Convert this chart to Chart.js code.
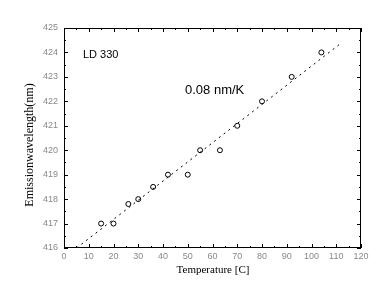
<!DOCTYPE html>
<html>
<head>
<meta charset="utf-8">
<script src="https://cdn.jsdelivr.net/npm/chart.js@4/dist/chart.umd.min.js"></script>
<style>
    body { margin: 0; background: #fff; }
    #chart { display: block; }
</style>
</head>
<body>
<canvas id="chart" width="391" height="305"></canvas>
<script>
// ─── DATA ─────────────────────────────────────────────────────
const temps       = [15, 20, 26, 30, 36, 42, 50, 55, 63, 70, 80, 92, 104];
const wavelengths = [417, 417, 417.8, 418, 418.5, 419, 419, 420, 420, 421, 422, 423, 424];

// linear fit (dashed), end points
const fitTemps = [5.1, 112.2];
const fitWaves = [416, 424.4];

const xTicks = [0, 10, 20, 30, 40, 50, 60, 70, 80, 90, 100, 110, 120];
const yTicks = [416, 417, 418, 419, 420, 421, 422, 423, 424, 425];

const yTitle = 'Emissionwavelength(nm)';
const xTitle = 'Temperature [C]';
const sampleLabel = 'LD 330';
const slopeLabel  = '0.08 nm/K';

// ─── FRAME + INWARD TICKS + TEXT ──────────────────────────────
const framePlugin = {
    id: 'frame',
    afterDraw(chart) {
        const { ctx, chartArea: a, scales: { x, y } } = chart;
        ctx.save();
        ctx.strokeStyle = '#000';
        ctx.lineWidth = 1;
        ctx.strokeRect(a.left + 0.5, a.top + 0.5, a.right - a.left - 1, a.bottom - a.top - 1);

        ctx.beginPath();
        // x ticks, major + minor, bottom and top
        for (let v = xTicks[0]; v <= xTicks[xTicks.length - 1]; v += 5) {
            const px = Math.round(x.getPixelForValue(v)) + 0.5;
            const len = v % 10 === 0 ? 4 : 2;
            ctx.moveTo(px, a.bottom); ctx.lineTo(px, a.bottom - len);
            ctx.moveTo(px, a.top);    ctx.lineTo(px, a.top + len);
        }
        // y ticks, major + minor, left and right
        for (let v = yTicks[0]; v <= yTicks[yTicks.length - 1]; v += 0.5) {
            const py = Math.round(y.getPixelForValue(v)) + 0.5;
            const len = v % 1 === 0 ? 4 : 2;
            ctx.moveTo(a.left, py);  ctx.lineTo(a.left + len, py);
            ctx.moveTo(a.right, py); ctx.lineTo(a.right - len, py);
        }
        ctx.stroke();

        ctx.fillStyle = '#000';
        ctx.textBaseline = 'middle';
        ctx.textAlign = 'left';
        ctx.font = '11px "Liberation Sans", Arial, sans-serif';
        ctx.fillText(sampleLabel, 83, 55);
        ctx.font = '13px "Liberation Sans", Arial, sans-serif';
        ctx.fillText(slopeLabel, 185, 90);

        ctx.textAlign = 'center';
        ctx.font = '11px "Liberation Serif", "Times New Roman", serif';
        ctx.fillText(xTitle, 213, 270);

        ctx.translate(30, 145);
        ctx.rotate(-Math.PI / 2);
        ctx.font = '12px "Liberation Serif", "Times New Roman", serif';
        ctx.fillText(yTitle, 0, 0);
        ctx.restore();
    }
};

// ─── CHART ────────────────────────────────────────────────────
new Chart(document.getElementById('chart'), {
    type: 'scatter',
    data: {
        datasets: [
            {
                label: 'Fit',
                data: fitTemps.map((t, i) => ({ x: t, y: fitWaves[i] })),
                showLine: true,
                borderColor: '#000',
                borderWidth: 1,
                borderDash: [2, 4],
                pointRadius: 0,
                fill: false
            },
            {
                label: 'Measured',
                data: temps.map((t, i) => ({ x: t, y: wavelengths[i] })),
                pointStyle: 'circle',
                pointRadius: 2.5,
                borderColor: '#000',
                borderWidth: 1,
                backgroundColor: 'rgba(0,0,0,0)'
            }
        ]
    },
    options: {
        responsive: false,
        devicePixelRatio: 1,
        animation: false,
        layout: { padding: { left: 0, right: 30, top: 28, bottom: 0 } },
        plugins: { legend: { display: false }, tooltip: { enabled: false } },
        scales: {
            x: {
                type: 'linear',
                min: 0, max: 120,
                afterFit: s => { s.height = 57; },
                afterBuildTicks: s => { s.ticks = xTicks.map(v => ({ value: v })); },
                grid: { display: false, drawTicks: false },
                border: { display: false },
                ticks: {
                    color: '#888',
                    padding: 3,
                    maxRotation: 0,
                    font: { family: '"Liberation Sans", Arial, sans-serif', size: 9 }
                }
            },
            y: {
                type: 'linear',
                min: 416, max: 425,
                afterFit: s => { s.width = 64; },
                afterBuildTicks: s => { s.ticks = yTicks.map(v => ({ value: v })); },
                grid: { display: false, drawTicks: false },
                border: { display: false },
                ticks: {
                    color: '#888',
                    padding: 6,
                    font: { family: '"Liberation Sans", Arial, sans-serif', size: 9 }
                }
            }
        }
    },
    plugins: [framePlugin]
});
</script>
</body>
</html>
